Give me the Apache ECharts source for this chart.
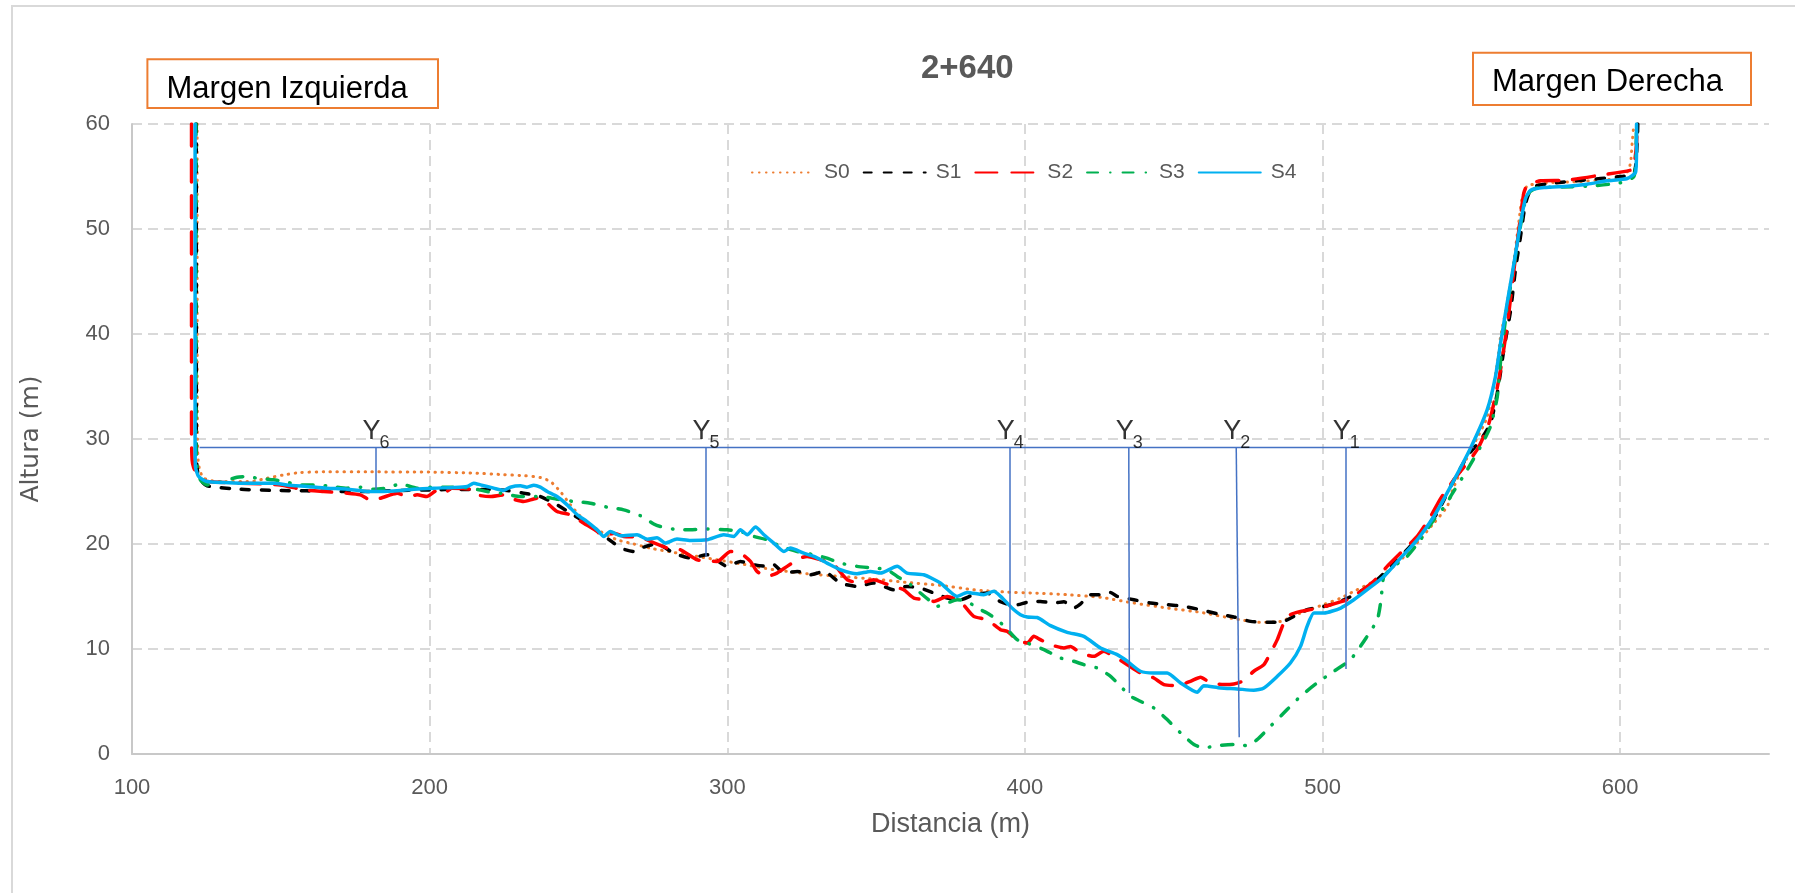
<!DOCTYPE html>
<html><head><meta charset="utf-8">
<script src="https://cdn.jsdelivr.net/npm/echarts@6/dist/echarts.min.js"></script>
<style>html,body{margin:0;padding:0;background:#fff}#c{width:1795px;height:893px}</style>
</head><body><div id="c"></div>
<script>
const seriesNames = ['S0', 'S1', 'S2', 'S3', 'S4'];
const seriesColors = ['#ED7D31', '#000000', '#FF0000', '#00B050', '#00B0F0'];

const s0 = [[121.9,60],[121.9,40],[122.0,30],[122.2,28],[122.8,27.0],[124.1,26.27],[128.6,25.95],[139.8,25.95],[145.4,26.27],[151.0,26.58],[156.6,26.81],[164.4,26.87],[180,26.87],[200,26.85],[215,26.75],[225,26.6],[232,26.5],[237.2,26.33],[240.6,25.95],[243.9,25.0],[247.3,23.73],[251.8,22.3],[257.4,21.2],[263,20.4],[268.6,20.0],[274.2,19.6],[282,19.2],[293.2,18.66],[304.4,18.12],[315.6,17.55],[326.8,17.17],[338,16.91],[349.2,16.66],[360.4,16.34],[371.6,16.06],[382.8,15.64],[394,15.42],[403,15.33],[414.2,15.17],[425.4,14.92],[436.6,14.38],[447.8,13.9],[459,13.49],[470.2,12.89],[479.2,12.54],[485.9,12.63],[492.6,13.43],[499.3,14.12],[506.1,14.85],[510.5,15.49],[517.2,16.44],[524,17.87],[530.7,19.77],[537.4,21.99],[541.9,23.58],[543.5,25.0],[546.5,27.0],[550.3,29.2],[555.3,32.1],[558.7,37.2],[559.8,39.7],[562,42.9],[564.3,47.0],[566,50.8],[567.1,53.0],[568.8,54.1],[575,54.4],[585,54.5],[595,54.7],[600.1,54.85],[602.5,55.5],[603.5,56.3],[604,58.1],[604.6,60]];

const s1 = [[121.6,60],[121.6,30],[121.8,27.5],[122.5,26.3],[125.2,25.54],[136.4,25.22],[147.6,25.1],[158.8,25.06],[170,25.0],[180,25.0],[190,25.1],[200,25.15],[210,25.2],[220,25.2],[226,25.1],[231.6,24.84],[237.2,24.52],[242.8,23.73],[247.3,22.94],[251.8,22.14],[257.4,21.03],[261.9,20.08],[264.1,19.61],[268.6,19.29],[270.8,19.6],[276.4,20.02],[282,19.13],[287.6,18.66],[293.2,18.98],[300,17.87],[304.4,18.34],[308.9,18.03],[313.4,17.87],[315.6,18.03],[319,17.23],[323.5,17.39],[328,17.07],[332.4,17.39],[338,16.28],[343.6,15.96],[349.2,16.28],[355.9,15.64],[360.4,15.96],[364.9,15.8],[369.4,15.33],[373.9,14.85],[378.3,14.69],[382.8,15.17],[387.3,15.33],[391.8,14.5],[396.3,14.15],[400.8,14.45],[405.2,14.53],[409.7,14.38],[413.1,14.5],[416.4,13.9],[418.7,14.3],[422,15.17],[425.4,15.17],[428.8,15.39],[431,15.01],[436.6,14.69],[442.2,14.38],[447.8,14.22],[453.4,14.06],[459,13.74],[464.6,13.36],[470.2,13.05],[475.8,12.63],[481.4,12.54],[485.9,12.54],[490.4,13.11],[494.8,13.74],[501.6,14.12],[507.2,14.69],[512.8,15.49],[518.4,16.6],[524,18.18],[528.4,19.45],[534.1,21.36],[538.5,22.94],[543,25.47],[548.6,28.33],[553.1,29.91],[556.4,31.5],[558.7,34.35],[560.9,38.48],[563.2,42.28],[564.8,46.09],[566.5,49.26],[568.2,52.43],[570.4,53.95],[576.6,54.33],[587.8,54.65],[599,54.97],[604.6,55.28],[605.7,58.14],[605.9,60]];

const s2 = [[120.0,60],[120.0,30],[120.2,28.0],[120.7,27.3],[122.4,26.27],[125.2,25.95],[136.4,25.79],[149.9,25.63],[157.7,25.16],[164.4,25.0],[172.3,24.84],[176.7,24.68],[180.1,24.2],[183.5,24.36],[186.8,24.68],[189.1,24.84],[192.4,24.52],[195.8,24.68],[199.1,24.52],[202.5,25.1],[204.8,24.84],[207.5,25.32],[213.7,25.22],[215.9,24.68],[220.4,24.52],[224.9,24.68],[227.1,24.36],[231.6,24.05],[236.1,24.36],[239.5,23.89],[242.8,23.1],[247.3,22.78],[251.8,21.98],[256.3,21.19],[258.5,20.72],[261.9,21.03],[265.2,20.72],[270.8,20.64],[274.2,20.24],[279.8,19.61],[284.3,19.45],[289.9,18.5],[296.6,18.34],[301.1,19.29],[304.4,19.13],[307.8,18.34],[310,17.39],[313.4,16.91],[316.7,17.23],[320.1,17.87],[324.6,18.66],[326.8,18.82],[331.3,18.5],[335.8,18.03],[340.3,16.6],[344.8,16.28],[349.2,16.6],[352.6,16.28],[355.9,15.96],[359.3,15.64],[362.7,14.85],[367.2,14.69],[369.4,14.53],[373.9,15.01],[378.3,14.53],[382.8,13.11],[387.3,12.79],[391.8,11.84],[394,11.68],[397.4,10.89],[400.8,10.57],[403,11.21],[405.2,10.89],[408.6,10.41],[413.1,10.1],[415.3,10.25],[418.7,9.62],[423.2,9.3],[426.5,9.78],[429.9,9.3],[434.4,8.51],[438.8,7.72],[443.3,7.24],[446.7,6.61],[451.2,6.51],[455.6,6.92],[459,7.31],[462.4,6.77],[466.8,6.61],[470.2,6.67],[473,6.92],[476.9,7.88],[480.3,8.51],[482.5,9.62],[484.8,10.89],[487,12.48],[489.2,13.27],[492.6,13.58],[497.1,13.81],[501.6,14.12],[508.3,14.69],[512.8,15.49],[517.2,16.44],[521.7,17.87],[526.2,19.14],[531.8,20.72],[536.3,22.62],[539.6,24.3],[544.1,26.11],[551.9,28.96],[555.9,31.5],[559.2,35.62],[562,40.69],[564.3,46.09],[566.5,51.16],[567.6,53.38],[568.8,54.17],[573.2,54.59],[582.2,54.65],[593.4,55.13],[603.5,55.6],[604.6,55.92],[605.5,58.14],[605.7,60]];

const s3 = [[121.5,60],[121.5,30],[121.8,27.5],[123,26.11],[125.2,25.63],[130,25.9],[135.3,26.36],[138.7,26.43],[142,26.27],[147.6,26.11],[151,25.95],[156.6,25.63],[161,25.63],[165.5,25.54],[172.3,25.32],[176.7,25.41],[181.2,25.22],[185.7,25.32],[190.2,25.73],[195.8,25.32],[200.3,25.41],[207,25.41],[213.7,25.32],[219.3,25.0],[223.8,24.84],[230.5,24.52],[237.2,24.52],[242.8,24.27],[248.4,24.05],[254,23.89],[259.6,23.51],[265.2,23.25],[270.8,22.7],[275.3,21.9],[277.5,21.67],[282,21.42],[287.6,21.35],[293.2,21.42],[300,21.35],[304.4,21.2],[308.9,20.72],[313.4,20.4],[317.9,19.77],[323.5,19.29],[329.1,18.98],[333.5,18.66],[338,18.18],[343.6,17.87],[349.2,17.71],[353.7,17.55],[357.1,16.91],[361.6,16.12],[364.9,15.33],[368.3,14.53],[370.5,14.06],[373.9,14.38],[377.2,14.69],[380.6,14.53],[384,13.9],[387.3,13.42],[390.7,12.79],[394,11.9],[397.4,10.89],[400.8,10.57],[406.4,9.94],[412,9.14],[416.4,8.83],[419.8,8.51],[424.3,8.19],[428.8,7.4],[432.1,6.45],[435.5,5.5],[438.8,5.02],[443.3,4.39],[447.8,3.28],[452.3,2.01],[456.8,0.9],[460.1,0.58],[464.6,0.8],[470.2,0.9],[474.7,0.8],[478,1.37],[482.5,2.64],[488.1,4.23],[492.6,5.5],[498.2,6.77],[503.8,7.88],[509.4,8.99],[515,11.21],[518.4,12.79],[519.5,14.38],[520.1,15.96],[520.6,16.91],[524,17.87],[528.4,18.82],[532.9,20.4],[537.4,22.31],[541.9,23.89],[543,24.52],[548.6,27.06],[553.1,29.28],[556.4,31.18],[558.7,34.03],[560,38],[562,42.5],[564.3,46.5],[566.5,50.3],[568,52.5],[569.5,53.5],[572,53.9],[580,54.0],[590,54.1],[600,54.4],[604.6,55.0],[605.3,57.5],[605.5,60]];

const s4 = [[121.2,60],[121.2,30],[121.3,27.38],[122.4,26.43],[125.2,25.95],[130.8,25.85],[136.4,25.79],[147.6,25.79],[152.1,25.63],[158.8,25.48],[165.5,25.32],[172.3,25.22],[179,25.0],[183.5,25.0],[190.2,25.1],[194.7,25.22],[201.4,25.32],[208.1,25.38],[212.6,25.48],[214.8,25.79],[217.1,25.63],[221.5,25.32],[224.9,25.1],[227.1,25.41],[230.5,25.54],[232.7,25.41],[235,25.6],[237.2,25.41],[239.5,25.0],[242.8,24.52],[246.2,23.73],[249.6,22.78],[252.9,22.14],[256.3,21.35],[258.5,20.72],[260.7,21.19],[264.1,20.78],[269.7,20.88],[273.1,20.46],[276.4,20.6],[279.2,20.09],[283.1,20.47],[287.6,20.34],[293.2,20.4],[298.8,20.88],[302.2,20.72],[304.4,21.35],[306.7,20.88],[309.5,21.61],[312.3,20.88],[315.6,20.09],[319,19.29],[321.2,19.61],[325.7,19.13],[329.1,18.82],[333.5,18.18],[338,17.55],[343.6,17.17],[348.1,17.39],[351.5,17.23],[357.1,17.87],[360.4,17.23],[366,17.07],[371.6,16.28],[377.2,15.01],[380.6,15.39],[386.2,15.17],[389.6,15.49],[391.8,15.01],[394,14.38],[396.3,13.74],[398.5,13.27],[400.8,13.05],[404.1,13.0],[408.6,12.22],[414.2,11.59],[419.8,11.2],[425.4,10.1],[431,9.46],[434.4,8.83],[438.8,7.88],[443.3,7.72],[447.8,7.72],[452.3,6.77],[457.9,5.88],[460.1,6.51],[465.7,6.29],[471.3,6.2],[476.9,6.07],[480.3,6.29],[484.8,7.4],[489.2,8.67],[492.6,10.25],[494.8,12.16],[497.1,13.43],[500.5,13.43],[506.1,13.9],[510.5,14.69],[515,15.65],[520.6,16.91],[526.2,18.66],[531.8,20.4],[537.4,22.62],[543,25.47],[549.7,29.12],[555.3,32.77],[558.1,35.94],[559.8,39.11],[562,42.9],[564.3,46.72],[566.5,50.53],[568.2,52.9],[569.9,53.7],[574.4,53.95],[582.2,54.08],[588.9,54.27],[595.6,54.59],[602.4,54.81],[605.2,55.44],[605.5,58.14],[605.5,60]];

const waterLevel = 29.2;
const waterStartX = 122.7;
const waterEndX = 550.8;
const markerNames = ['6', '5', '4', '3', '2', '1'];
const markerTopX = [181.8, 292.7, 394.9, 434.9, 471.0, 507.8];
const markerBottomX = [181.8, 292.7, 394.9, 435.1, 472.0, 507.8];
const markerBottomY = [25.16, 18.82, 11.68, 5.82, 1.6, 8.1];

const chartTitle = '2+640';
const xAxisTitle = 'Distancia (m)';
const yAxisTitle = 'Altura (m)';
const leftBankText = 'Margen Izquierda';
const rightBankText = 'Margen Derecha';

const FONT = "'Liberation Sans', Arial, sans-serif";
const GRAY = '#595959';

const lineStyles = [
  { width: 3, type: [0.5, 6.5], cap: 'round' },
  { width: 3.5, type: [8, 12], cap: 'round' },
  { width: 3.5, type: [22, 14], cap: 'round' },
  { width: 3.5, type: [11, 12, 0.5, 12], cap: 'round' },
  { width: 3.5, type: 'solid', cap: 'round' }
];
const profiles = [s0, s1, s2, s3, s4];

const chart = echarts.init(document.getElementById('c'), null, { renderer: 'canvas' });

const series = profiles.map((d, i) => ({
  name: seriesNames[i],
  type: 'line',
  data: d,
  symbol: 'none',
  showSymbol: false,
  smooth: 0.2,
  z: 2 + i * 0.01,
  color: seriesColors[i],
  lineStyle: Object.assign({ color: seriesColors[i], join: 'round' }, lineStyles[i]),
  animation: false
}));

series.push({
  name: 'nivel',
  type: 'line',
  data: [[waterStartX, waterLevel], [waterEndX, waterLevel]],
  symbol: 'none',
  z: 5,
  lineStyle: { color: '#4472C4', width: 1.5 },
  animation: false,
  markLine: {
    silent: true,
    symbol: ['none', 'none'],
    label: { show: false },
    lineStyle: { color: '#4472C4', width: 1.5, type: 'solid' },
    animation: false,
    data: markerTopX.map((x, i) => [
      { coord: [x, waterLevel] },
      { coord: [markerBottomX[i], markerBottomY[i]] }
    ])
  }
});

series.push({
  name: 'Ylabel',
  type: 'scatter',
  data: markerTopX.map(x => [x, waterLevel]),
  symbolSize: 1,
  itemStyle: { color: 'rgba(0,0,0,0)' },
  z: 6,
  silent: true,
  animation: false,
  label: {
    show: true, position: 'inside', offset: [-4, -16],
    formatter: 'Y', color: '#000', fontSize: 27, fontFamily: FONT
  }
});
series.push({
  name: 'Ysub',
  type: 'scatter',
  data: markerTopX.map((x, i) => [x, waterLevel, markerNames[i]]),
  symbolSize: 1,
  itemStyle: { color: 'rgba(0,0,0,0)' },
  z: 6,
  silent: true,
  animation: false,
  label: {
    show: true, position: 'inside', offset: [9, -4],
    formatter: p => p.data[2], color: '#000', fontSize: 18, fontFamily: FONT
  }
});

const option = {
  backgroundColor: '#fff',
  animation: false,
  title: {
    text: chartTitle, left: 921, top: 52, padding: 0,
    textStyle: { fontSize: 33, fontWeight: 'bold', color: GRAY, fontFamily: FONT }
  },
  legend: {
    data: seriesNames, left: 746, top: 157, itemWidth: 62, itemHeight: 20, itemGap: 13,
    itemStyle: { opacity: 0, borderWidth: 0 },
    textStyle: { fontSize: 21, color: GRAY, fontFamily: FONT, padding: [0, 0, 0, 5] }
  },
  grid: { left: 132, right: 26, top: 124, bottom: 139 },
  xAxis: {
    type: 'value', min: 100, max: 650, interval: 100,
    name: xAxisTitle, nameLocation: 'middle', nameGap: 57,
    nameTextStyle: { fontSize: 27, color: GRAY, fontFamily: FONT },
    axisLine: { show: true, onZero: false, lineStyle: { color: '#c8c8c8', width: 2 } },
    axisTick: { show: false },
    axisLabel: { fontSize: 22, color: GRAY, fontFamily: FONT, margin: 23, showMaxLabel: false },
    splitLine: { show: true, showMaxLine: false, lineStyle: { color: '#d9d9d9', width: 2, type: [10, 6] } }
  },
  yAxis: {
    type: 'value', min: 0, max: 60, interval: 10,
    name: yAxisTitle, nameLocation: 'middle', nameGap: 88,
    nameTextStyle: { fontSize: 25, color: GRAY, fontFamily: "'DejaVu Sans', sans-serif" },
    axisLine: { show: true, lineStyle: { color: '#c8c8c8', width: 2 } },
    axisTick: { show: false },
    axisLabel: { fontSize: 22, color: GRAY, fontFamily: FONT, margin: 22 },
    splitLine: { show: true, showMinLine: false, lineStyle: { color: '#d9d9d9', width: 2, type: [10, 6] } }
  },
  graphic: [
    { type: 'rect', silent: true, z: -10, shape: { x: 12, y: 6, width: 1800, height: 900 },
      style: { fill: 'none', stroke: '#d9d9d9', lineWidth: 2 } },
    { type: 'rect', silent: true, shape: { x: 147.4, y: 59.3, width: 290.6, height: 48.7 },
      style: { fill: '#fff', stroke: '#ED7D31', lineWidth: 2 } },
    { type: 'text', silent: true, x: 166.5, y: 89,
      style: { text: leftBankText, fill: '#000', font: "31px 'Liberation Sans', Arial, sans-serif", verticalAlign: 'middle', align: 'left' } },
    { type: 'rect', silent: true, shape: { x: 1473, y: 52.7, width: 278, height: 52.3 },
      style: { fill: '#fff', stroke: '#ED7D31', lineWidth: 2 } },
    { type: 'text', silent: true, x: 1492, y: 82,
      style: { text: rightBankText, fill: '#000', font: "31px 'Liberation Sans', Arial, sans-serif", verticalAlign: 'middle', align: 'left' } }
  ],
  series: series
};
chart.setOption(option);
</script>
</body></html>
